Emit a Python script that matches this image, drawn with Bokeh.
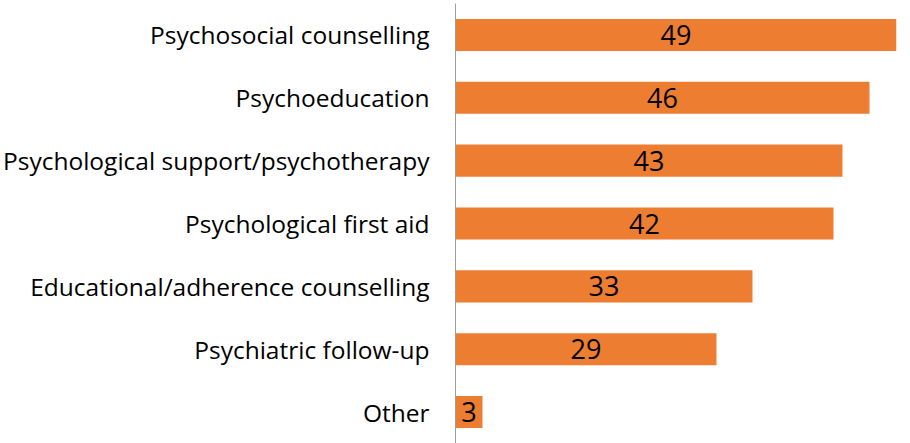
from bokeh.plotting import figure
from bokeh.models import FactorRange, Range1d, ColumnDataSource
from bokeh.core.properties import value
from bokeh.embed import file_html
from bokeh.resources import INLINE

categories = [
    "Psychosocial counselling",
    "Psychoeducation",
    "Psychological support/psychotherapy",
    "Psychological first aid",
    "Educational/adherence counselling",
    "Psychiatric follow-up",
    "Other",
]
counts = [49, 46, 43, 42, 33, 29, 3]

FONT = "Open Sans"
BAR_COLOR = "#ED7D31"

factors = list(reversed(categories))
src = ColumnDataSource(dict(
    cat=categories,
    val=counts,
    mid=[v / 2 for v in counts],
    lab=[str(v) for v in counts],
))

p = figure(
    width=910, height=443,
    y_range=FactorRange(factors=factors, range_padding=0),
    x_range=Range1d(0, 49),
    output_backend="svg", toolbar_location=None,
    min_border_left=455, min_border_right=14,
    min_border_top=3, min_border_bottom=0,
)

p.hbar(y="cat", left=0, right="val", height=0.51, source=src,
       fill_color=BAR_COLOR, line_color=None)

p.text(x="mid", y="cat", text="lab", source=src,
       text_align="center", text_baseline="middle",
       text_font=value(FONT), text_font_size="27px", text_color="#000000")

p.xaxis.visible = False
p.xgrid.visible = False
p.ygrid.visible = False
p.outline_line_color = None

ya = p.yaxis[0]
ya.axis_line_color = "#a0a0a0"
ya.axis_line_width = 1
ya.major_tick_line_color = None
ya.minor_tick_line_color = None
ya.major_label_text_font = FONT
ya.major_label_text_font_size = "24.5px"
ya.major_label_text_color = "#000000"
ya.major_label_standoff = 20

open("out.html", "w").write(file_html(p, INLINE))
